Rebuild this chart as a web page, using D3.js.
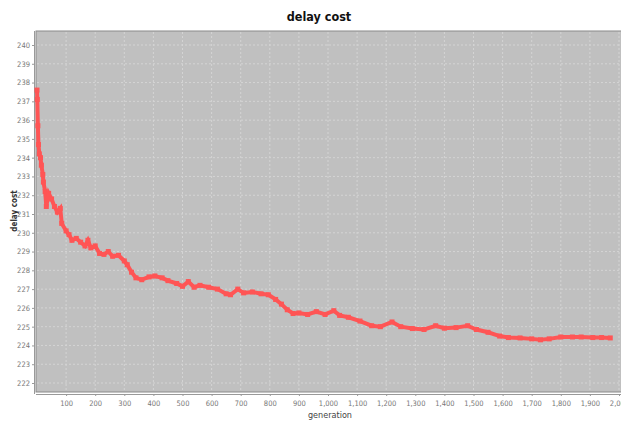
<!DOCTYPE html>
<html>
<head>
<meta charset="utf-8">
<script src="https://cdn.jsdelivr.net/npm/d3@7"></script>
<style>
  body { margin: 0; background: #fff; }
  svg { display: block; }
</style>
</head>
<body>
<script>
// data
const generations = [0, 1, 3, 5, 8, 12, 15, 20, 22, 28, 32, 40, 50, 60, 70, 80, 85, 100, 110, 120,
  135, 150, 165, 175, 185, 200, 215, 230, 245, 260, 280, 300, 310, 325, 340, 360, 385, 405, 430, 450,
  480, 500, 520, 540, 560, 590, 620, 650, 665, 690, 710, 740, 770, 795, 820, 840, 860, 880, 900, 930,
  960, 990, 1020, 1040, 1070, 1110, 1150, 1180, 1220, 1250, 1290, 1330, 1370, 1400, 1440, 1480, 1510,
  1550, 1590, 1620, 1660, 1700, 1730, 1760, 1800, 1840, 1870, 1910, 1940, 1970];
const delayCost = [237.6, 237.1, 235.7, 234.7, 234.2, 234.0, 233.6, 233.1, 232.7, 232.2, 231.4, 232.1,
  231.8, 231.4, 231.1, 231.3, 230.5, 230.1, 229.9, 229.6, 229.7, 229.5, 229.3, 229.6, 229.2, 229.3,
  228.9, 228.85, 229.0, 228.75, 228.8, 228.5, 228.3, 227.9, 227.6, 227.5, 227.65, 227.7, 227.6, 227.45,
  227.3, 227.15, 227.4, 227.1, 227.2, 227.1, 227.0, 226.75, 226.7, 227.0, 226.8, 226.85, 226.75, 226.7,
  226.45, 226.2, 225.9, 225.7, 225.73, 225.65, 225.8, 225.65, 225.85, 225.6, 225.5, 225.3, 225.05,
  225.0, 225.25, 225.0, 224.9, 224.85, 225.05, 224.92, 224.95, 225.05, 224.85, 224.7, 224.5, 224.42,
  224.4, 224.35, 224.3, 224.35, 224.45, 224.45, 224.45, 224.42, 224.42, 224.4];
const xTicks = [100, 200, 300, 400, 500, 600, 700, 800, 900, 1000, 1100, 1200, 1300, 1400, 1500,
  1600, 1700, 1800, 1900, 2000];
const yTicks = [222, 223, 224, 225, 226, 227, 228, 229, 230, 231, 232, 233, 234, 235, 236, 237, 238, 239, 240];

const width = 621;
const height = 424;
const plotLeft = 36;
const plotTop = 31;
const plotBottom = 392;
const plotRight = 640;

const svg = d3.select('body')
  .append('svg')
  .attr('width', width)
  .attr('height', height);

const x = d3.scaleLinear().domain([0, 2000]).range([37, 619]);
const y = d3.scaleLinear().domain([222, 240]).range([383, 45]);

// PLOT AREA
svg.append('rect')
  .attr('x', plotLeft)
  .attr('y', plotTop)
  .attr('width', plotRight - plotLeft)
  .attr('height', plotBottom - plotTop)
  .attr('fill', '#c0c0c0')
  .attr('stroke', '#8a8a8a')
  .attr('stroke-width', 1);

// GRID (faint dotted)
svg.append('g')
  .selectAll('line')
  .data(xTicks)
  .enter()
  .append('line')
  .attr('x1', d => x(d))
  .attr('x2', d => x(d))
  .attr('y1', plotTop + 1)
  .attr('y2', plotBottom - 1)
  .attr('stroke', '#d4d4d4')
  .attr('stroke-dasharray', '2,2');

svg.append('g')
  .selectAll('line')
  .data(yTicks)
  .enter()
  .append('line')
  .attr('x1', plotLeft + 1)
  .attr('x2', width)
  .attr('y1', d => y(d))
  .attr('y2', d => y(d))
  .attr('stroke', '#d4d4d4')
  .attr('stroke-dasharray', '2,2');

// AXES
const xAxis = d3.axisBottom(x)
  .tickValues(xTicks)
  .tickSize(2)
  .tickPadding(5)
  .tickFormat(d3.format(','));

svg.append('g')
  .attr('transform', `translate(0,${plotBottom + 2})`)
  .call(xAxis)
  .call(g => g.select('.domain').attr('stroke', '#999').attr('d', `M${plotLeft},0.5H${width}`));

const yAxis = d3.axisLeft(y)
  .tickValues(yTicks)
  .tickSize(2)
  .tickPadding(2);

svg.append('g')
  .attr('transform', `translate(${plotLeft - 2},0)`)
  .call(yAxis)
  .call(g => g.select('.domain').attr('stroke', '#999').attr('d', `M0.5,${plotTop}V${plotBottom + 2}`));

svg.selectAll('.tick text')
  .attr('fill', '#777')
  .style('font-family', 'DejaVu Sans Condensed, DejaVu Sans')
  .style('font-size', '7.5px');
svg.selectAll('.tick line').attr('stroke', '#999');

// SERIES
const points = generations.map((g, i) => [g, delayCost[i]]);

svg.append('path')
  .datum(points)
  .attr('fill', 'none')
  .attr('stroke', '#ff5555')
  .attr('stroke-width', 4)
  .attr('d', d3.line().x(d => x(d[0])).y(d => y(d[1])));

svg.append('g')
  .selectAll('rect')
  .data(points)
  .enter()
  .append('rect')
  .attr('x', d => x(d[0]) - 2.5)
  .attr('y', d => y(d[1]) - 2.5)
  .attr('width', 5)
  .attr('height', 5)
  .attr('fill', '#ff5555');

// TITLES
svg.append('text')
  .attr('x', 319)
  .attr('y', 21)
  .attr('text-anchor', 'middle')
  .style('font-family', 'DejaVu Sans Condensed, DejaVu Sans')
  .style('font-weight', 'bold')
  .style('font-size', '12.5px')
  .attr('fill', '#111')
  .text('delay cost');

svg.append('text')
  .attr('transform', 'translate(17,211) rotate(-90)')
  .attr('text-anchor', 'middle')
  .style('font-family', 'DejaVu Sans Condensed, DejaVu Sans')
  .style('font-weight', 'bold')
  .style('font-size', '8px')
  .attr('fill', '#333')
  .text('delay cost');

svg.append('text')
  .attr('x', 330)
  .attr('y', 418)
  .attr('text-anchor', 'middle')
  .style('font-family', 'DejaVu Sans Condensed, DejaVu Sans')
  .style('font-size', '9px')
  .attr('fill', '#444')
  .text('generation');
</script>
</body>
</html>
